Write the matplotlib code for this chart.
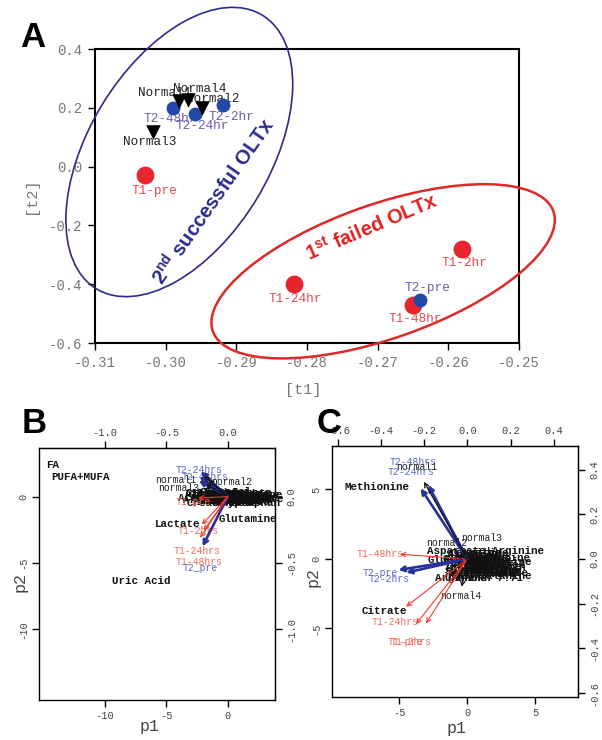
import matplotlib
matplotlib.use('Agg')
import matplotlib.pyplot as plt
from matplotlib.patches import Ellipse

plt.rcParams['mathtext.fontset'] = 'custom'
plt.rcParams['mathtext.bf'] = 'Liberation Sans:bold'
plt.rcParams['mathtext.rm'] = 'Liberation Sans'
plt.rcParams['axes.unicode_minus'] = False

W, H = 602, 740
fig = plt.figure(figsize=(6.02, 7.40), dpi=100)


def fx(px):
    return px / W


def fy(py):
    return 1 - py / H


MONO = 'Liberation Mono'
SANS = 'Liberation Sans'

RED = '#e8242c'
BLUE = '#2448a8'
RED_TXT = '#e8484e'
BLUE_TXT = '#6a5cae'
NAVY = '#2b2b8c'

# ---------------- Panel A data ----------------
a_t1_names = ['T1-pre', 'T1-2hr', 'T1-24hr', 'T1-48hr']
a_t1_x = [-0.3029, -0.2581, -0.2819, -0.2650]
a_t1_y = [-0.027, -0.280, -0.398, -0.472]
a_t1_lx = [-0.3016, -0.2577, -0.2817, -0.2647]
a_t1_ly = [-0.082, -0.328, -0.450, -0.518]

a_t2_names = ['T2-pre', 'T2-48hr', 'T2-24hr', 'T2-2hr']
a_t2_x = [-0.2640, -0.2989, -0.2959, -0.2919]
a_t2_y = [-0.453, 0.199, 0.180, 0.210]
a_t2_lx = [-0.2630, -0.2993, -0.2949, -0.2907]
a_t2_ly = [-0.413, 0.163, 0.139, 0.168]

a_n_names = ['Normal1', 'Normal2', 'Normal3', 'Normal4']
a_n_x = [-0.2981, -0.2949, -0.3018, -0.2968]
a_n_y = [0.222, 0.199, 0.117, 0.228]
a_n_lx = [-0.3001, -0.2933, -0.3023, -0.2952]
a_n_ly = [0.250, 0.231, 0.083, 0.264]

a_xticks = [-0.31, -0.30, -0.29, -0.28, -0.27, -0.26, -0.25]
a_yticks = [-0.6, -0.4, -0.2, 0.0, 0.2, 0.4]

# ---------------- Panel B data ----------------
b_s_names = ['T2-24hrs', 'T2-48hrs', 'T2-2hrs', 'T2-pre',
             'normal1', 'normal2', 'normal3', 'normal4',
             'T1-pre', 'T1-2hrs', 'T1-24hrs', 'T1-48hrs']
b_s_x = [-2.2, -2.3, -2.35, -2.05, -1.9, -1.6, -2.0, -1.75, -2.4, -2.1, -2.25, -1.95]
b_s_y = [1.9, 1.5, 1.2, -3.75, 1.55, 1.3, 0.6, 0.95, -0.1, -2.1, -3.1, -2.55]
b_s_group = ['T2', 'T2', 'T2', 'T2', 'N', 'N', 'N', 'N', 'T1', 'T1', 'T1', 'T1']

b_l_names = ['T2-24hrs', 'T2-48hrs', 'normal1', 'normal2', 'normal3',
             'T1-pre', 'T1-2hrs', 'T1-24hrs', 'T1-48hrs', 'T2_pre']
b_l_x = [-2.3, -1.85, -4.2, 0.35, -4.0, -2.8, -2.4, -2.5, -2.33, -2.25]
b_l_y = [2.0, 1.5, 1.26, 1.13, 0.63, -0.42, -2.58, -4.07, -4.9, -5.4]
b_l_group = ['T2', 'T2', 'N', 'N', 'N', 'T1', 'T1', 'T1', 'T1', 'T2']

b_var_names = ['FA', 'PUFA+MUFA', 'Lactate', 'Glutamine', 'Uric Acid']
b_var_x = [-14.3, -12.0, -4.1, 1.6, -7.05]
b_var_y = [2.38, 1.45, -2.08, -1.68, -6.35]

b_cl_names = ['Citrate', 'Glycine', 'Alanine', 'Valine', 'Leucine', 'Isoleucine',
              'Threonine', 'Tyrosine', 'Formate', 'Acetate', 'Acetone', 'Pyruvate',
              'Creatine', 'Creatinine', 'Choline', 'Betaine', 'Taurine', 'Succinate',
              'Lysine', 'Proline', 'Glucose', 'Glutamate', 'Histidine', 'Hippurate',
              'Ornithine', 'Methionine', 'Aspartate', 'Arginine',
              'Acetoacetate', 'Glycerol', 'Mannose', 'Fumarate', 'Malonate', 'Urea',
              'Allantoin', 'Sarcosine', 'Asparagine', 'Tryptophan', 'Carnitine',
              'Dimethylamine']
b_cl_x = [-1.3, -1.0, -0.7, -0.4, -0.1, 0.2, 0.5, 0.8, 1.1, 1.4, 1.7, 2.0,
          -1.2, -0.8, -0.3, 0.1, 0.4, 0.9, 1.3, 1.6, 1.9, 2.2, -0.5, 0.3,
          0.7, 1.2, 1.8, -1.5,
          -0.9, -0.2, 0.6, 1.0, 1.5, 2.4, -1.1, 0.0, 0.8, 1.7, 2.1, 0.4]
b_cl_y = [0.1, -0.2, 0.25, -0.35, 0.0, -0.15, 0.2, -0.3, 0.05, -0.1, -0.25, 0.0,
          -0.45, 0.3, -0.2, 0.15, -0.4, 0.1, -0.3, 0.2, -0.1, -0.2, -0.05, -0.3,
          0.0, -0.15, 0.1, -0.25,
          -0.1, 0.35, -0.5, -0.2, 0.3, -0.4, 0.2, -0.3, 0.05, -0.45, 0.15, -0.1]

b_xticks = [-10, -5, 0]
b_yticks = [-10, -5, 0]
b_top_ticks = [-1.0, -0.5, 0.0]
b_right_ticks = [-1.0, -0.5, 0.0]

# ---------------- Panel C data ----------------
c_s_names = ['T2-48hrs', 'T2-24hrs', 'normal1', 'T2-pre', 'T2-2hrs', 'T1-48hrs',
             'T1-pre', 'T1-24hrs', 'T1-2hrs', 'normal4', 'normal3', 'normal2']
c_s_x = [-2.87, -3.43, -3.19, -5.07, -4.5, -4.95, -4.5, -3.77, -3.04, -0.42, -0.3, -0.8]
c_s_y = [5.32, 5.08, 5.56, -0.79, -0.98, 0.34, -3.43, -4.68, -4.63, -2.0, 0.65, 0.3]
c_s_group = ['T2', 'T2', 'N', 'T2', 'T2', 'T1', 'T1', 'T1', 'T1', 'N', 'N', 'N']

c_l_names = ['T2-48hrs', 'normal1', 'T2-24hrs', 'normal3', 'normal2', 'T1-48hrs',
             'T2-pre', 'T2-2hrs', 'normal4', 'T1-24hrs', 'T1-pre', 'T1-2hrs']
c_l_x = [-3.97, -3.7, -4.17, 1.05, -1.52, -6.42, -6.42, -5.73, -0.49, -5.32, -4.58, -4.1]
c_l_y = [7.0, 6.6, 6.28, 1.49, 1.13, 0.34, -0.98, -1.44, -2.66, -4.51, -5.95, -5.95]
c_l_group = ['T2', 'N', 'T2', 'N', 'N', 'T1', 'T2', 'T2', 'N', 'T1', 'T1', 'T1']

c_var_names = ['Methionine', 'Citrate', 'Aspartate+Arginine', 'Glucose',
               'Acetoacetate', 'Unknown 7.71', 'Arginine']
c_var_x = [-6.62, -6.13, 1.3, -1.23, 1.6, 1.23, -0.46]
c_var_y = [5.16, -3.72, 0.6, -0.05, -0.98, -1.39, -1.39]

c_cl_names = ['Alanine', 'Valine', 'Leucine', 'Glycine', 'Lactate', 'Formate',
              'Acetate', 'Creatine', 'Choline', 'Betaine', 'Taurine', 'Succinate',
              'Lysine', 'Proline', 'Glutamine', 'Glutamate', 'Histidine', 'Tyrosine',
              'Pyruvate', 'Acetone', 'Threonine', 'Creatinine',
              'Isoleucine', 'Hippurate', 'Ornithine', 'Glycerol', 'Fumarate',
              'Phenylalanine', 'Allantoin', 'Carnitine', 'Sarcosine', 'Urea']
c_cl_x = [0.2, 0.6, 1.0, 1.4, 1.8, 0.4, 0.8, 1.2, 1.6, 2.0, 0.0, 0.5, 1.1, 1.5,
          1.9, 0.3, 0.9, 1.3, 1.7, 0.7, 1.0, 1.4,
          2.2, 0.5, 1.8, 2.4, 0.1, 1.6, 2.1, 0.9, 2.6, 3.1]
c_cl_y = [0.3, 0.1, -0.1, 0.2, -0.3, -0.5, -0.2, -0.6, 0.0, -0.8, -0.3, -0.9,
          0.4, -0.4, -0.6, 0.0, -1.0, -0.2, -1.1, 0.2, -0.7, -0.9,
          0.1, -0.7, -1.0, -0.4, -0.1, -1.2, -0.6, 0.45, -0.2, -0.9]

c_xticks = [-5, 0, 5]
c_yticks = [-5, 0, 5]
c_top_ticks = [-0.6, -0.4, -0.2, 0.0, 0.2, 0.4]
c_right_ticks = [-0.6, -0.4, -0.2, 0.0, 0.2, 0.4]

# ================= Panel A =================
axA = fig.add_axes([fx(95), fy(343), (519 - 95) / W, (343 - 49) / H])
axA.set_xlim(-0.31, -0.25)
axA.set_ylim(-0.6, 0.4)
for s in ['top', 'right']:
    axA.spines[s].set_visible(False)
for s in ['left', 'bottom']:
    axA.spines[s].set_linewidth(1.5)
axA.plot([-0.31, -0.25], [0.4, 0.4], color='black', lw=1.5, clip_on=False)
axA.plot([-0.25, -0.25], [-0.6, 0.4], color='black', lw=1.5, clip_on=False)
axA.set_xticks(a_xticks)
axA.set_xticklabels(['%.2f' % v for v in a_xticks], family=MONO, fontsize=10, color='#777')
axA.set_yticks(a_yticks)
axA.set_yticklabels(['%.1f' % v for v in a_yticks], family=MONO, fontsize=10, color='#777')
axA.tick_params(direction='out', length=5, width=1, pad=4)

for n, x, y in zip(a_t1_names, a_t1_lx, a_t1_ly):
    axA.text(x, y, n, color=RED_TXT, family=MONO, fontsize=9.2, ha='center', va='center', zorder=2)
for n, x, y in zip(a_t2_names, a_t2_lx, a_t2_ly):
    axA.text(x, y, n, color=BLUE_TXT, family=MONO, fontsize=9.2, ha='center', va='center', zorder=2)
for n, x, y in zip(a_n_names, a_n_lx, a_n_ly):
    axA.text(x, y, n, color='#222', family=MONO, fontsize=9.2, ha='center', va='center', zorder=2)

axA.scatter(a_t1_x, a_t1_y, s=165, color=RED, zorder=3, linewidths=0)
axA.scatter(a_t2_x, a_t2_y, s=100, color=BLUE, zorder=4, linewidths=0)
axA.scatter(a_n_x, a_n_y, s=110, marker='v', color='black', zorder=4, linewidths=0)

fig.text(fx(303), fy(390), '[t1]', family=MONO, fontsize=11, color='#777', ha='center', va='center')
fig.text(fx(31), fy(196), '[t2]', family=MONO, fontsize=11, color='#777', ha='center', va='center',
         rotation=90)

# overlay for ellipses (pixel coordinates, y up)
ov = fig.add_axes([0, 0, 1, 1], zorder=10)
ov.set_xlim(0, W)
ov.set_ylim(0, H)
ov.axis('off')
ov.add_patch(Ellipse((179.3, H - 152), 320, 181, angle=58.8, fill=False, ec=NAVY, lw=1.2))
ov.add_patch(Ellipse((383.1, H - 271.3), 361, 134, angle=19.4, fill=False, ec='#e02828', lw=1.8))
ov.text(213, H - 201.7, r'2$^{\mathbf{nd}}$ successful OLTx', family=SANS, weight='bold',
        fontsize=14.5, color=NAVY, rotation=55, ha='center', va='center', rotation_mode='anchor')
ov.text(372, H - 226.7, r'1$^{\mathbf{st}}$ failed OLTx', family=SANS, weight='bold',
        fontsize=14.5, color='#e02020', rotation=23, ha='center', va='center', rotation_mode='anchor')

# panel letters
fig.text(fx(20), fy(47), 'A', family=SANS, weight='bold', fontsize=25, ha='left', va='baseline')
fig.text(fx(22), fy(433), 'B', family=SANS, weight='bold', fontsize=25, ha='left', va='baseline')
fig.text(fx(317), fy(433), 'C', family=SANS, weight='bold', fontsize=25, ha='left', va='baseline')


# ================= Biplot helper =================
def style_biplot(ax, xt, yt, top_t, right_t, fxs, fys, top_fmt, right_fmt):
    for s in ax.spines.values():
        s.set_linewidth(1.0)
    ax.set_xticks(xt)
    ax.set_xticklabels([str(v) for v in xt], family=MONO, fontsize=7.5, color='#444')
    ax.set_yticks(yt)
    ax.set_yticklabels([str(v) for v in yt], family=MONO, fontsize=7.5, color='#444',
                       rotation=90, va='center')
    ax.tick_params(direction='out', length=5, width=1, pad=3)
    sx = ax.secondary_xaxis('top', functions=(lambda v: v * fxs, lambda v: v / fxs))
    sx.set_xticks(top_t)
    sx.set_xticklabels([top_fmt % v for v in top_t], family=MONO, fontsize=7.5, color='#444')
    sx.tick_params(direction='out', length=5, width=1, pad=2)
    sy = ax.secondary_yaxis('right', functions=(lambda v: v * fys, lambda v: v / fys))
    sy.set_yticks(right_t)
    sy.set_yticklabels([right_fmt % v for v in right_t], family=MONO, fontsize=7.5,
                       color='#444', rotation=90, va='center')
    sy.tick_params(direction='out', length=5, width=1, pad=3)


def col_of(g, txt=False):
    if g == 'T1':
        return '#f36a58' if txt else '#f03a2a'
    if g == 'T2':
        return '#5a68c0' if txt else '#28309a'
    return '#222' if txt else '#111'


def draw_arrow(ax, x, y, g):
    lw = {'T1': 0.8, 'T2': 1.9, 'N': 0.9}[g]
    ax.annotate('', xy=(x, y), xytext=(0, 0),
                arrowprops=dict(arrowstyle='->', color=col_of(g), lw=lw,
                                shrinkA=0, shrinkB=0, mutation_scale=8))


# ================= Panel B =================
axB = fig.add_axes([fx(39.3), fy(700), (275 - 39.3) / W, (700 - 447.7) / H])
axB.set_xlim(-15.35, 3.85)
axB.set_ylim(-15.33, 3.69)
style_biplot(axB, b_xticks, b_yticks, b_top_ticks, b_right_ticks, 0.1, 0.1, '%.1f', '%.1f')

for n, x, y in zip(b_cl_names, b_cl_x, b_cl_y):
    axB.text(x, y, n, family=MONO, weight='bold', fontsize=7.8, color='#111',
             ha='center', va='center', clip_on=False)
for n, x, y in zip(b_var_names, b_var_x, b_var_y):
    axB.text(x, y, n, family=MONO, weight='bold', fontsize=7.8, color='#111',
             ha='center', va='center')
for n, x, y, g in zip(b_l_names, b_l_x, b_l_y, b_l_group):
    axB.text(x, y, n, family=MONO, fontsize=7, color=col_of(g, True), ha='center', va='center')
for x, y, g in zip(b_s_x, b_s_y, b_s_group):
    draw_arrow(axB, x, y, g)

fig.text(fx(150), fy(727), 'p1', family=MONO, fontsize=12, color='#444', ha='center', va='center')
fig.text(fx(20), fy(582), 'p2', family=MONO, fontsize=12, color='#444', ha='center', va='center',
         rotation=90)

# ================= Panel C =================
axC = fig.add_axes([fx(332.3), fy(697.3), (578.3 - 332.3) / W, (697.3 - 445.7) / H])
axC.set_xlim(-9.93, 8.16)
axC.set_ylim(-9.95, 8.15)
style_biplot(axC, c_xticks, c_yticks, c_top_ticks, c_right_ticks, 0.063, 0.0622, '%.1f', '%.1f')

for n, x, y in zip(c_cl_names, c_cl_x, c_cl_y):
    axC.text(x, y, n, family=MONO, weight='bold', fontsize=7.8, color='#111',
             ha='center', va='center')
for n, x, y in zip(c_var_names, c_var_x, c_var_y):
    axC.text(x, y, n, family=MONO, weight='bold', fontsize=7.8, color='#111',
             ha='center', va='center')
for n, x, y, g in zip(c_l_names, c_l_x, c_l_y, c_l_group):
    axC.text(x, y, n, family=MONO, fontsize=7, color=col_of(g, True), ha='center', va='center')
for x, y, g in zip(c_s_x, c_s_y, c_s_group):
    draw_arrow(axC, x, y, g)

fig.text(fx(457), fy(728), 'p1', family=MONO, fontsize=12, color='#444', ha='center', va='center')
fig.text(fx(313), fy(577), 'p2', family=MONO, fontsize=12, color='#444', ha='center', va='center',
         rotation=90)

fig.savefig('out.png', dpi=100)
